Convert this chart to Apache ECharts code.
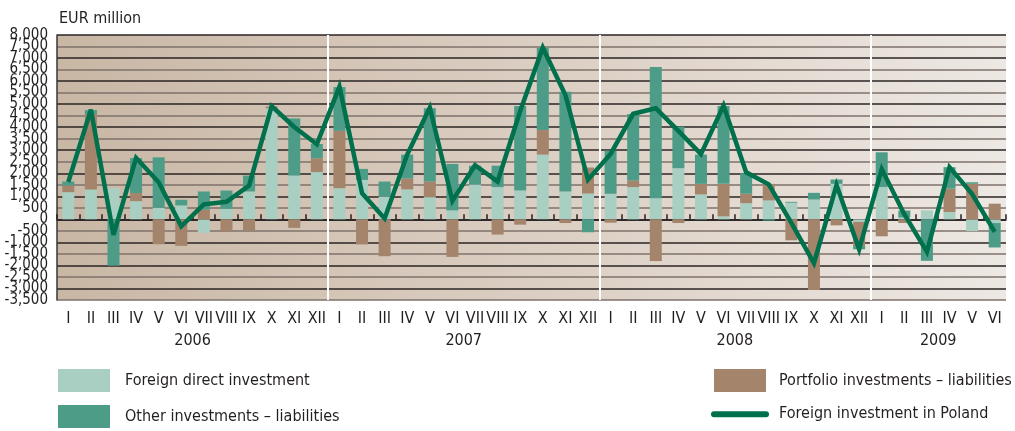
<!DOCTYPE html>
<html>
<head>
<meta charset="utf-8">
<script src="https://cdn.jsdelivr.net/npm/echarts@6/dist/echarts.min.js"></script>
<style>
html,body{margin:0;padding:0;background:#fff;}
#chart{width:1015px;height:431px;}
</style>
</head>
<body>
<div id="chart"></div>
<script>
// ---- data (EUR million) ----
var months = ['I','II','III','IV','V','VI','VII','VIII','IX','X','XI','XII',
              'I','II','III','IV','V','VI','VII','VIII','IX','X','XI','XII',
              'I','II','III','IV','V','VI','VII','VIII','IX','X','XI','XII',
              'I','II','III','IV','V','VI'];
var years = ['2006','2007','2008','2009'];
var yearCenters = [5.5, 17.5, 29.5, 38.5];
var yearBreaks = [11.5, 23.5, 35.5];
var yEnds = [-3500, 8000];

var fdi = [1180, 1300, 1350, 790, 500, 605, -590, 460, 1210, 4820, 1900, 2050,
           1350, 1710, 990, 1300, 965, 390, 1510, 1400, 1250, 2810, 1210, 1120,
           1110, 1400, 920, 2220, 1080, 130, 700, 820, 720, 860, 1540, -110,
           1400, 80, 390, 320, -510, -160];
var portfolio = [290, 3270, 0, 350, -1080, -1150, 420, -520, -475, 80, -370, 600,
                 2490, -1090, -1600, 475, 680, -1630, 0, -660, -230, 1065, -160, 1130,
                 -145, 290, -1810, -160, 460, 1410, 410, 720, -910, -3070, -260, -1050,
                 -735, -160, 0, 1010, 1540, 680];
var other = [170, 170, -2010, 1520, 2190, 245, 790, 790, 690, 0, 2480, 620,
             1900, 480, 650, 1035, 3180, 2015, 820, 930, 3670, 3570, 4330, -560,
             1870, 2880, 5690, 1800, 1270, 3380, 890, -50, 40, 290, 190, -140,
             1510, 300, -1800, 935, 70, -1060];
var total = [1620, 4760, -670, 2670, 1610, -300, 650, 760, 1460, 4910, 4010, 3260,
             5760, 1130, 40, 2810, 4850, 800, 2350, 1640, 4700, 7450, 5400, 1720,
             2840, 4580, 4820, 3840, 2830, 4940, 2040, 1520, -150, -1900, 1490, -1300,
             2180, 220, -1410, 2265, 1100, -545];

var names = ['Foreign direct investment', 'Portfolio investments \u2013 liabilities',
             'Other investments \u2013 liabilities', 'Foreign investment in Poland'];

var FONT = "'Liberation Sans Narrow', 'DejaVu Sans Condensed', 'Arial Narrow', sans-serif";
var TXT = '#231f20';

function fmt(v) {
  var s = Math.abs(v).toString().replace(/\B(?=(\d{3})+(?!\d))/g, ',');
  return (v < 0 ? '-' : '') + s;
}

var chart = echarts.init(document.getElementById('chart'), null, {renderer: 'canvas'});

var option = {
  animation: false,
  textStyle: {fontFamily: FONT},
  title: {
    text: 'EUR million', left: 54, top: 6,
    textStyle: {fontFamily: FONT, fontSize: 16, fontWeight: 'normal', color: TXT}
  },
  grid: {
    left: 57, right: 9, top: 35, bottom: 131,
    show: true, borderWidth: 0,
    backgroundColor: new echarts.graphic.LinearGradient(0, 0, 1, 0, [
      {offset: 0, color: '#c9b7a5'},
      {offset: 0.5, color: '#dbcec2'},
      {offset: 1, color: '#ede8e3'}
    ])
  },
  legend: [
    {
      left: 58, top: 369, orient: 'vertical', itemWidth: 52, itemHeight: 23, itemGap: 13,
      padding: 0, icon: 'rect', selectedMode: false,
      data: [names[0], names[2]],
      textStyle: {fontFamily: FONT, fontSize: 16, color: TXT, padding: [0, 0, 0, 10]}
    },
    {
      left: 711, top: 369, orient: 'vertical', itemWidth: 52, itemHeight: 23, itemGap: 13,
      padding: 0, selectedMode: false,
      data: [{name: names[1], icon: 'rect'}, {name: names[3], itemStyle: {opacity: 0}}],
      lineStyle: {width: 6, cap: 'round'},
      textStyle: {fontFamily: FONT, fontSize: 16, color: TXT, padding: [0, 0, 0, 8]}
    }
  ],
  xAxis: [
    {
      type: 'category', data: months, position: 'bottom',
      axisLine: {show: true, onZero: true, lineStyle: {color: '#231f20', width: 1.5}},
      axisTick: {show: true, inside: true, length: 5, interval: 0, lineStyle: {color: '#231f20', width: 1.5}},
      axisLabel: {show: false},
      splitLine: {show: false}
    },
    {
      type: 'category', data: months, position: 'bottom',
      axisLine: {show: false, onZero: false},
      axisTick: {show: false},
      axisLabel: {show: true, interval: 0, margin: 11, fontFamily: FONT, fontSize: 16, color: TXT},
      splitLine: {show: false}
    },
    {
      type: 'value', min: -0.5, max: 41.5, position: 'bottom', z: 1,
      axisLine: {show: false, onZero: false},
      axisTick: {show: false, customValues: yearBreaks},
      axisLabel: {
        show: true, customValues: yearCenters, margin: 33,
        fontFamily: FONT, fontSize: 16, color: TXT,
        formatter: function (v) {
          var i = yearCenters.indexOf(v);
          return i >= 0 ? years[i] : '';
        }
      },
      splitLine: {show: true, lineStyle: {color: '#ffffff', width: 2}}
    }
  ],
  yAxis: [
    {
      type: 'value', min: -3500, max: 8000, interval: 500, position: 'left',
      axisLine: {show: true, onZero: false, lineStyle: {color: '#3d3634', width: 1.5}},
      axisTick: {show: false},
      axisLabel: {
        margin: 9, fontFamily: FONT, fontSize: 15, color: TXT,
        showMinLabel: false, showMaxLabel: false,
        formatter: fmt
      },
      splitLine: {show: true, lineStyle: {color: ['#7e726b', '#2b2523'], width: 1.6}}
    },
    {
      type: 'value', min: -3500, max: 8000, position: 'left', offset: 0,
      axisLine: {show: false, onZero: false},
      axisTick: {show: false},
      splitLine: {show: false},
      axisLabel: {
        customValues: yEnds, showMinLabel: true, showMaxLabel: true,
        margin: 9, fontFamily: FONT, fontSize: 15, color: TXT,
        formatter: fmt
      }
    }
  ],
  series: [
    {name: names[0], type: 'bar', stack: 'inv', xAxisIndex: 0, yAxisIndex: 0, data: fdi, barWidth: 12,
     itemStyle: {color: '#a9cfc3'}},
    {name: names[1], type: 'bar', stack: 'inv', xAxisIndex: 0, yAxisIndex: 0, data: portfolio, barWidth: 12,
     itemStyle: {color: '#a4846a'}},
    {name: names[2], type: 'bar', stack: 'inv', xAxisIndex: 0, yAxisIndex: 0, data: other, barWidth: 12,
     itemStyle: {color: '#4c9c87'}},
    {name: names[3], type: 'line', xAxisIndex: 0, yAxisIndex: 0, data: total, symbol: 'none', z: 5,
     itemStyle: {color: '#00704d'},
     lineStyle: {color: '#00704d', width: 4.5, join: 'miter', miterLimit: 4}}
  ]
};
chart.setOption(option);
</script>
</body>
</html>
